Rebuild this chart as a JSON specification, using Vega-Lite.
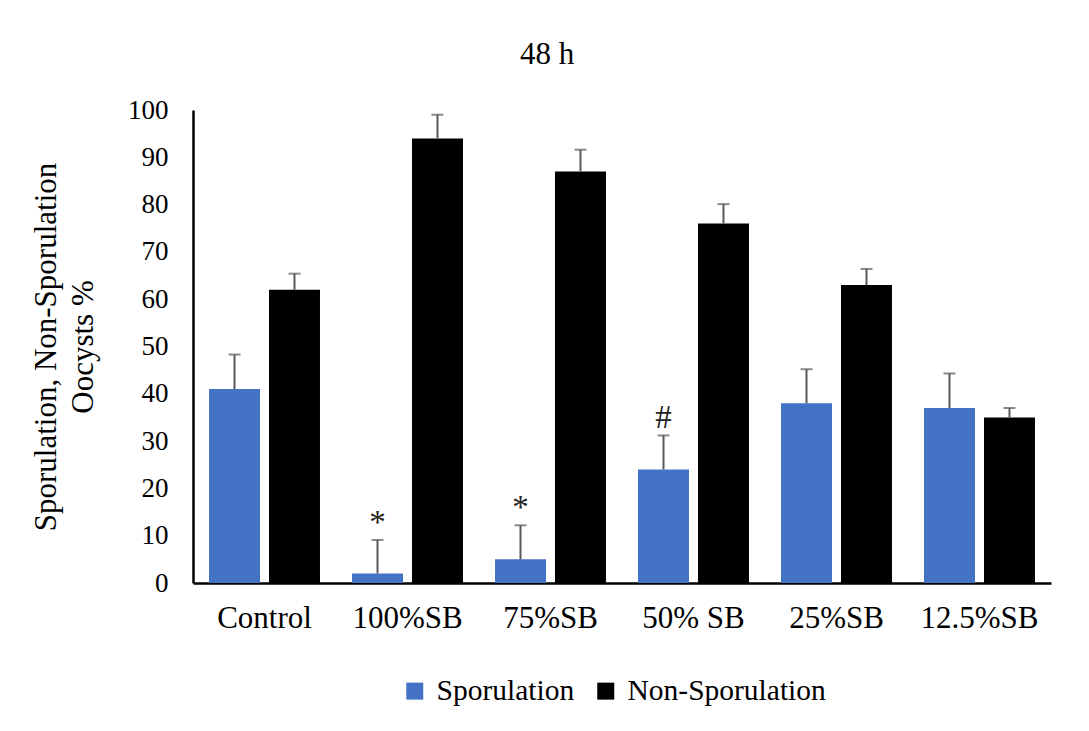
{
  "$schema": "https://vega.github.io/schema/vega-lite/v6.json",
  "width": 858,
  "height": 473,
  "autosize": {"type": "none"},
  "padding": {"left": 193, "top": 110, "right": 38, "bottom": 148},
  "background": "white",
  "config": {
    "font": "Liberation Serif",
    "view": {"stroke": null},
    "axis": {
      "labelFont": "Liberation Serif",
      "labelColor": "#000000",
      "titleFont": "Liberation Serif",
      "titleColor": "#000000",
      "titleFontWeight": "normal",
      "ticks": false,
      "grid": false,
      "domainColor": "#000000",
      "domainWidth": 2.5
    },
    "axisX": {"labelFontSize": 31, "labelPadding": 20, "labelAngle": 0},
    "axisY": {"labelFontSize": 27, "labelPadding": 25, "titleFontSize": 31, "titleLineHeight": 37, "titlePadding": 28},
    "legend": {"labelFont": "Liberation Serif", "labelFontSize": 29.5, "labelColor": "#000000", "labelLimit": 400}
  },
  "title": {
    "text": "48 h",
    "font": "Liberation Serif",
    "fontSize": 31,
    "fontWeight": "normal",
    "color": "#000000",
    "dx": -75,
    "offset": 11
  },
  "data": {
    "values": [
      {"group": "Control", "series": "Sporulation", "value": 41, "upper": 48.3, "note": ""},
      {"group": "Control", "series": "Non-Sporulation", "value": 62, "upper": 65.4, "note": ""},
      {"group": "100%SB", "series": "Sporulation", "value": 2, "upper": 9.1, "note": "*"},
      {"group": "100%SB", "series": "Non-Sporulation", "value": 94, "upper": 99.0, "note": ""},
      {"group": "75%SB", "series": "Sporulation", "value": 5, "upper": 12.2, "note": "*"},
      {"group": "75%SB", "series": "Non-Sporulation", "value": 87, "upper": 91.6, "note": ""},
      {"group": "50% SB", "series": "Sporulation", "value": 24, "upper": 31.2, "note": "#"},
      {"group": "50% SB", "series": "Non-Sporulation", "value": 76, "upper": 80.1, "note": ""},
      {"group": "25%SB", "series": "Sporulation", "value": 38, "upper": 45.2, "note": ""},
      {"group": "25%SB", "series": "Non-Sporulation", "value": 63, "upper": 66.4, "note": ""},
      {"group": "12.5%SB", "series": "Sporulation", "value": 37, "upper": 44.3, "note": ""},
      {"group": "12.5%SB", "series": "Non-Sporulation", "value": 35, "upper": 37.0, "note": ""}
    ]
  },
  "encoding": {
    "x": {
      "field": "group",
      "type": "nominal",
      "sort": ["Control", "100%SB", "75%SB", "50% SB", "25%SB", "12.5%SB"],
      "scale": {"paddingInner": 0.224, "paddingOuter": 0.112},
      "axis": {"title": null}
    },
    "xOffset": {
      "field": "series",
      "type": "nominal",
      "sort": ["Sporulation", "Non-Sporulation"],
      "scale": {"paddingInner": 0.15, "paddingOuter": 0}
    },
    "y": {
      "field": "value",
      "type": "quantitative",
      "scale": {"domain": [0, 100]},
      "axis": {
        "title": ["Sporulation, Non-Sporulation", "Oocysts %"],
        "values": [0, 10, 20, 30, 40, 50, 60, 70, 80, 90, 100]
      }
    }
  },
  "layer": [
    {
      "mark": {"type": "bar"},
      "encoding": {
        "color": {
          "field": "series",
          "type": "nominal",
          "sort": ["Sporulation", "Non-Sporulation"],
          "scale": {"domain": ["Sporulation", "Non-Sporulation"], "range": ["#4472C4", "#000000"]},
          "legend": {
            "title": null,
            "orient": "none",
            "direction": "horizontal",
            "legendX": 207,
            "legendY": 566,
            "symbolType": "square",
            "symbolSize": 289,
            "symbolStrokeWidth": 0,
            "columnPadding": 16,
            "labelOffset": 7
          }
        }
      }
    },
    {
      "mark": {"type": "rule", "color": "#595959", "strokeWidth": 2},
      "encoding": {
        "y2": {"field": "upper"}
      }
    },
    {
      "mark": {"type": "tick", "color": "#595959", "thickness": 2, "size": 12, "orient": "horizontal"},
      "encoding": {
        "y": {"field": "upper", "type": "quantitative"}
      }
    },
    {
      "mark": {"type": "text", "font": "Liberation Serif", "fontSize": 33, "baseline": "bottom", "dy": 0, "color": "#222222"},
      "encoding": {
        "y": {"field": "upper", "type": "quantitative"},
        "text": {"field": "note"}
      }
    }
  ]
}
